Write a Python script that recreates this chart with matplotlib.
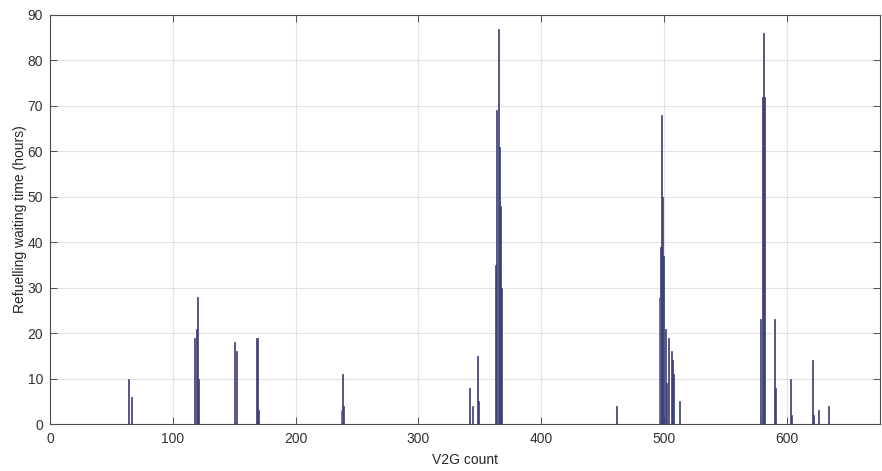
import matplotlib
matplotlib.use("Agg")
import matplotlib.pyplot as plt

plt.rcParams['font.family'] = ['Liberation Sans', 'DejaVu Sans']

# V2G index and the corresponding refuelling waiting time (hours); all other counts are zero
v2g_index = [64, 66,
             118, 119, 120, 121,
             150, 152,
             168, 169, 170,
             237, 238, 239,
             342, 344, 348, 349,
             363, 364, 365, 366, 367, 368,
             461,
             496, 497, 498, 499, 500, 501, 502,
             504, 506, 507, 508, 513,
             579, 580, 581, 582,
             590, 591,
             603, 604,
             621, 622, 626, 634]
waiting_hours = [10, 6,
                 19, 21, 28, 10,
                 18, 16,
                 19, 19, 3,
                 3, 11, 4,
                 8, 4, 15, 5,
                 35, 69, 87, 61, 48, 30,
                 4,
                 28, 39, 68, 50, 37, 21, 9,
                 19, 16, 14, 11, 5,
                 23, 72, 86, 72,
                 23, 8,
                 10, 2,
                 14, 2, 3, 4]

x_ticks = [0, 100, 200, 300, 400, 500, 600]
y_ticks = [0, 10, 20, 30, 40, 50, 60, 70, 80, 90]

fig = plt.figure(figsize=(8.82, 4.71), dpi=100)
ax = fig.add_axes([50 / 882, 47 / 471, 830 / 882, 409 / 471])

ax.bar(v2g_index, waiting_hours, width=0.8, color='#4c4c98',
       edgecolor='#3a3a70', linewidth=0.5, zorder=3)

ax.set_xlim(0, 676)
ax.set_ylim(0, 90)
ax.set_xticks(x_ticks)
ax.set_yticks(y_ticks)

ax.grid(True, color='#e3e3e3', linewidth=0.8, zorder=0)
ax.set_axisbelow(True)

for side in ['top', 'right', 'bottom', 'left']:
    ax.spines[side].set_color('#4d4d4d')
    ax.spines[side].set_linewidth(0.8)

ax.tick_params(direction='in', length=5, width=0.7, color='#4d4d4d',
               labelsize=10, labelcolor='#333333',
               top=True, right=True)
ax.tick_params(axis='x', pad=6)
ax.tick_params(axis='y', pad=5)

ax.set_xlabel('V2G count', fontsize=10, color='#262626', labelpad=5)
ax.set_ylabel('Refuelling waiting time (hours)', fontsize=10, color='#262626', labelpad=0)

fig.savefig('out.png', dpi=100)
